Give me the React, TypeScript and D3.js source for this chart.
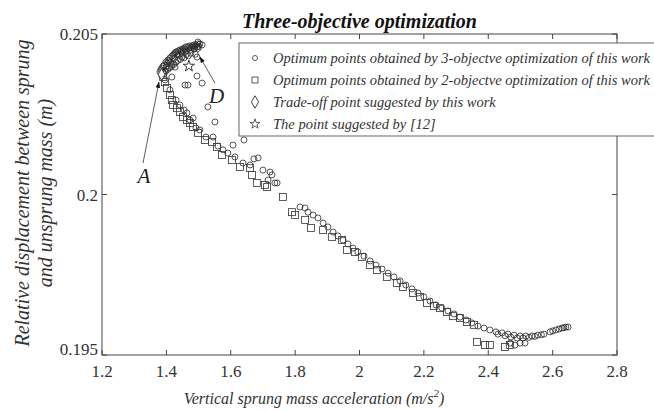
import React from "react";
import * as d3 from "d3";

// Optimum points, 3-objective optimization (acceleration m/s^2, displacement m)
const obj3Acc = [
  1.380, 1.386, 1.393, 1.399, 1.405, 1.411, 1.417, 1.424, 1.430, 1.436, 1.442,
  1.449, 1.455, 1.461, 1.467, 1.473, 1.480, 1.486, 1.492, 1.498, 1.504, 1.511,
  1.388, 1.400, 1.412, 1.424, 1.437, 1.449, 1.461, 1.474, 1.486, 1.498,
  1.395, 1.418, 1.443, 1.468, 1.490, 1.430, 1.455, 1.498,
  1.383, 1.390, 1.402, 1.408, 1.421, 1.427, 1.433, 1.446, 1.452, 1.458, 1.470,
  1.477, 1.483, 1.489, 1.495, 1.501, 1.392, 1.405, 1.415, 1.436, 1.448, 1.462,
  1.476, 1.385, 1.398, 1.409, 1.423,
  1.495, 1.417, 1.427, 1.495, 1.458, 1.467, 1.511, 1.529, 1.551, 1.545, 1.607,
  1.641, 1.672, 1.685, 1.722, 1.728, 1.737, 1.716, 1.700,
  1.396, 1.411, 1.430, 1.442, 1.455, 1.464, 1.473, 1.483, 1.492, 1.504, 1.523,
  1.560, 1.576, 1.591, 1.613, 1.638, 1.660, 1.744,
  1.815, 1.831, 1.840, 1.856, 1.871, 1.887, 1.902, 1.918, 1.933, 1.949, 1.964,
  1.980, 1.995, 2.014, 2.033, 2.051, 2.070, 2.089, 2.107, 2.126, 2.144, 2.163,
  2.182, 2.200, 2.219, 2.238, 2.256, 2.275, 2.294, 2.312, 2.331, 2.349, 2.368,
  2.387, 2.405, 2.424, 2.443, 2.461, 2.480, 2.499, 2.517, 2.536, 2.554, 2.573,
  2.592, 2.610, 2.629, 2.641, 2.648,
  2.430, 2.452, 2.470, 2.490, 2.508, 2.527, 2.545, 2.565, 2.600, 2.620, 2.635,
  2.468, 2.483, 2.499, 2.514,
];
const obj3Disp = [
  0.20382, 0.20394, 0.20403, 0.20413, 0.20419, 0.20425, 0.20431, 0.20438, 0.20444, 0.20447, 0.2045,
  0.20453, 0.20456, 0.2046, 0.2046, 0.20463, 0.20463, 0.20466, 0.20466, 0.20469, 0.20469, 0.20466,
  0.2038, 0.20398, 0.20412, 0.20424, 0.20434, 0.2044, 0.20446, 0.2045, 0.20453, 0.20455,
  0.20385, 0.20405, 0.20421, 0.20432, 0.20437, 0.20412, 0.20426, 0.20475,
  0.20388, 0.20400, 0.20408, 0.20416, 0.20434, 0.20441, 0.20438, 0.20446, 0.20448, 0.20452, 0.20455,
  0.20458, 0.20458, 0.20462, 0.20460, 0.20461, 0.20376, 0.20390, 0.20398, 0.20418, 0.20428, 0.20436,
  0.20440, 0.20372, 0.20384, 0.20395, 0.20405,
  0.20428, 0.20366, 0.20397, 0.20369, 0.20341, 0.20341, 0.20347, 0.20273, 0.20226, 0.20179, 0.20154,
  0.2017, 0.20111, 0.20114, 0.2007, 0.20061, 0.20036, 0.20045, 0.20076,
  0.20357, 0.20326, 0.20294, 0.20279, 0.20263, 0.20254, 0.20232, 0.20238, 0.20207, 0.20201, 0.20179,
  0.20151, 0.20139, 0.20129, 0.20117, 0.20098, 0.20092, 0.20036,
  0.19961, 0.19958, 0.19945, 0.19936, 0.19927, 0.19911, 0.19899, 0.19883, 0.19871, 0.19858, 0.19846,
  0.19833, 0.19821, 0.19808, 0.19793, 0.1978, 0.19768, 0.19755, 0.19743, 0.19731, 0.19718, 0.19706,
  0.19693, 0.19681, 0.19668, 0.19656, 0.19646, 0.19637, 0.19628, 0.19618, 0.19609, 0.196, 0.1959,
  0.19584, 0.19578, 0.19572, 0.19569, 0.19565, 0.19562, 0.19559, 0.19559, 0.19559, 0.19562, 0.19565,
  0.19572, 0.19578, 0.19584, 0.19587, 0.19587,
  0.19565, 0.19560, 0.19556, 0.19553, 0.19553, 0.19555, 0.19558, 0.19563, 0.19575, 0.19581, 0.19585,
  0.19537, 0.19531, 0.19537, 0.19537,
];

// Optimum points, 2-objective optimization
const obj2Acc = [
  1.390, 1.396, 1.402, 1.411, 1.417, 1.421, 1.433, 1.442, 1.452, 1.464, 1.473,
  1.483, 1.498, 1.520, 1.542, 1.557, 1.573, 1.604, 1.629, 1.660, 1.666, 1.681,
  1.706, 1.713, 1.762, 1.790, 1.800, 1.831, 1.849, 1.887, 1.915, 1.946, 1.961,
  1.986, 2.008, 2.033, 2.054, 2.085, 2.116, 2.135, 2.166, 2.188, 2.210, 2.231,
  2.250, 2.272, 2.290, 2.312, 2.334, 2.356, 2.365, 2.390, 2.405, 2.452, 2.467,
];
const obj2Disp = [
  0.20366, 0.2035, 0.20332, 0.2031, 0.20294, 0.20279, 0.20269, 0.20257, 0.20241, 0.20232, 0.20223,
  0.2021, 0.20192, 0.2017, 0.20164, 0.20148, 0.20123, 0.20107, 0.20086, 0.20083, 0.20061, 0.20036,
  0.2003, 0.20023, 0.19992, 0.19945, 0.19936, 0.19921, 0.19896, 0.19889, 0.19868, 0.19858, 0.19827,
  0.19821, 0.19805, 0.1978, 0.19765, 0.19743, 0.19724, 0.19712, 0.19693, 0.19681, 0.19662, 0.19653,
  0.19646, 0.19634, 0.19621, 0.19615, 0.19603, 0.19594, 0.19541, 0.19531, 0.19531, 0.19525, 0.19531,
];

const tradeOff = [1.385, 0.20374];
const suggested12 = [1.47, 0.204];

const xTicks = [1.2, 1.4, 1.6, 1.8, 2, 2.2, 2.4, 2.6, 2.8];
const xTickLabels = ["1.2", "1.4", "1.6", "1.8", "2", "2.2", "2.4", "2.6", "2.8"];
const yTicks = [0.195, 0.2, 0.205];
const yTickLabels = ["0.195", "0.2", "0.205"];

const legendLabels = [
  "Optimum points obtained by 3-objectve optimization of this work",
  "Optimum points obtained by 2-objectve optimization of this work",
  "Trade-off point suggested by this work",
  "The point suggested by [12]",
];

const W = 654;
const H = 411;
const left = 102, right = 617, top = 34, bottom = 355;
const serif = "'Liberation Serif', 'Times New Roman', serif";
const ink = "#444";

export default function App() {
  const x = d3.scaleLinear().domain([1.2, 2.8]).range([left, right]);
  const y = d3.scaleLinear().domain([0.195, 0.205]).range([bottom, top]);

  const diamond = d3.symbol(d3.symbolDiamond, 40)();
  const star = d3.symbol(d3.symbolStar, 40)();
  const legDiamond = d3.symbol(d3.symbolDiamond, 45)();
  const legStar = d3.symbol(d3.symbolStar, 30)();

  const tick = 5;

  return (
    <svg width={W} height={H} style={{ position: "absolute", left: 0, top: 0, background: "#fff" }}>
      <defs>
        <marker id="arr" viewBox="0 0 10 10" refX="9" refY="5" markerWidth="8" markerHeight="8" orient="auto">
          <path d="M0,1.5 L10,5 L0,8.5 Z" fill="#111" />
        </marker>
      </defs>

      {/* axes box */}
      <rect x={left} y={top} width={right - left} height={bottom - top} fill="none" stroke={ink} strokeWidth={1} />
      {xTicks.map((t, i) => (
        <g key={"xt" + i}>
          <line x1={x(t)} x2={x(t)} y1={bottom} y2={bottom - tick} stroke={ink} />
          <line x1={x(t)} x2={x(t)} y1={top} y2={top + tick} stroke={ink} />
          <text x={x(t)} y={bottom + 22} textAnchor="middle" fontFamily={serif} fontSize={17} fill="#333">
            {xTickLabels[i]}
          </text>
        </g>
      ))}
      {yTicks.map((t, i) => (
        <g key={"yt" + i}>
          <line x1={left} x2={left + tick} y1={y(t)} y2={y(t)} stroke={ink} />
          <line x1={right} x2={right - tick} y1={y(t)} y2={y(t)} stroke={ink} />
          <text x={left - 4} y={y(t) + (i === 0 ? 0 : 6)} textAnchor="end" fontFamily={serif} fontSize={17} fill="#333">
            {yTickLabels[i]}
          </text>
        </g>
      ))}

      {/* data */}
      {obj3Acc.map((a, i) => (
        <circle key={"c" + i} cx={x(a)} cy={y(obj3Disp[i])} r={3} fill="none" stroke="#2a2a2a" strokeWidth={0.8} />
      ))}
      {obj2Acc.map((a, i) => (
        <rect key={"s" + i} x={x(a) - 3.5} y={y(obj2Disp[i]) - 3.5} width={7} height={7} fill="none" stroke="#333" strokeWidth={0.8} />
      ))}
      <path d={diamond} transform={`translate(${x(tradeOff[0])},${y(tradeOff[1])})`} fill="#fff" stroke="#333" strokeWidth={0.9} />
      <path d={star} transform={`translate(${x(suggested12[0])},${y(suggested12[1])})`} fill="none" stroke="#222" strokeWidth={0.9} />

      {/* annotations */}
      <line x1={x(1.3274)} y1={y(0.20098)} x2={x(1.377)} y2={y(0.2035)} stroke="#333" strokeWidth={0.8} markerEnd="url(#arr)" />
      <text x={x(1.3305)} y={y(0.20036)} textAnchor="middle" fontFamily={serif} fontStyle="italic" fontSize={21} fill="#222">A</text>
      <line x1={x(1.551)} y1={y(0.20347)} x2={x(1.5044)} y2={y(0.20428)} stroke="#333" strokeWidth={0.8} markerEnd="url(#arr)" />
      <text x={x(1.5557)} y={y(0.20285)} textAnchor="middle" fontFamily={serif} fontStyle="italic" fontSize={21} fill="#222">D</text>

      {/* legend */}
      <rect x={239} y={43} width={500} height={93} fill="#fff" stroke="#666" strokeWidth={1} />
      {legendLabels.map((lab, i) => {
        const cy = 58 + i * 22;
        return (
          <g key={"lg" + i}>
            {i === 0 && <circle cx={255} cy={cy} r={2.5} fill="none" stroke="#333" strokeWidth={0.8} />}
            {i === 1 && <rect x={252} y={cy - 3} width={6} height={6} fill="none" stroke="#333" strokeWidth={0.8} />}
            {i === 2 && <path d={legDiamond} transform={`translate(255,${cy})`} fill="none" stroke="#333" strokeWidth={0.9} />}
            {i === 3 && <path d={legStar} transform={`translate(255,${cy})`} fill="none" stroke="#333" strokeWidth={0.8} />}
            <text x={273} y={cy + 5} fontFamily={serif} fontStyle="italic" fontSize={14.5} fill="#333">
              {lab}
            </text>
          </g>
        );
      })}

      {/* title and axis labels */}
      <text x={(left + right) / 2} y={28} textAnchor="middle" fontFamily={serif} fontStyle="italic" fontWeight="bold" fontSize={20} fill="#111">
        Three-objective optimization
      </text>
      <text x={314} y={404} textAnchor="middle" fontFamily={serif} fontStyle="italic" fontSize={16} fill="#333">
        Vertical sprung mass acceleration (m/s<tspan dy={-7} fontSize={11}>2</tspan><tspan dy={7}>)</tspan>
      </text>
      <g transform={`translate(29,193) rotate(-90)`}>
        <text x={0} y={0} textAnchor="middle" fontFamily={serif} fontStyle="italic" fontSize={20} fill="#333">
          Relative displacement between sprung
        </text>
        <text x={0} y={23} textAnchor="middle" fontFamily={serif} fontStyle="italic" fontSize={20} fill="#333">
          and unsprung mass (m)
        </text>
      </g>
    </svg>
  );
}
